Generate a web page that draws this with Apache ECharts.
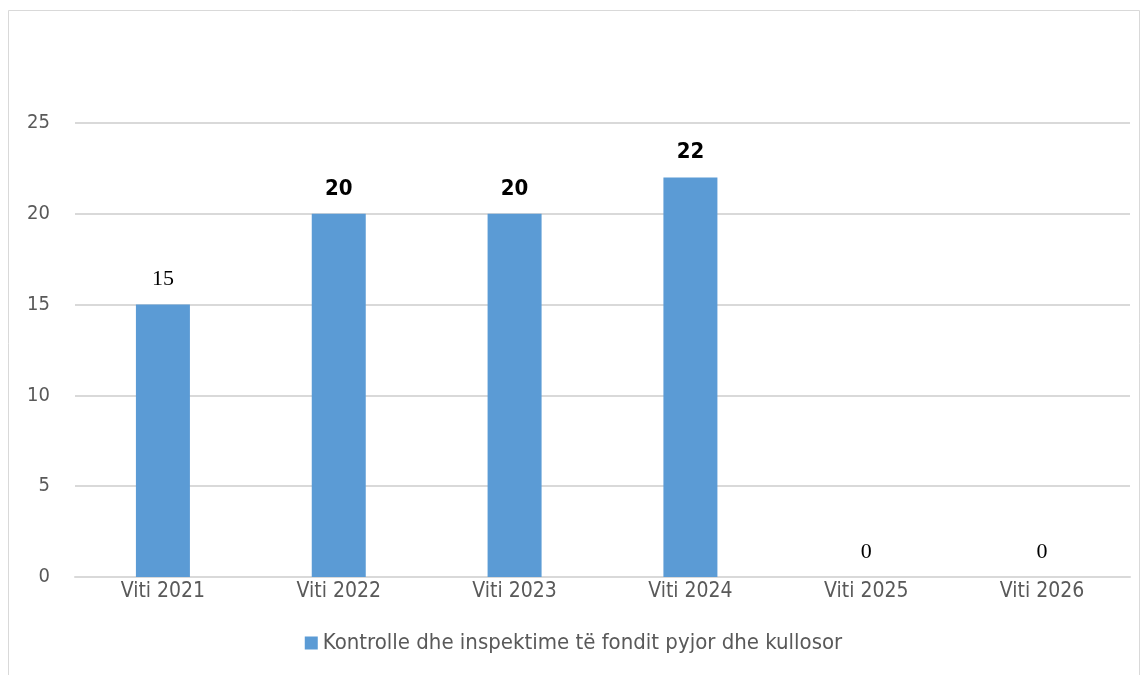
<!DOCTYPE html>
<html>
<head>
<meta charset="utf-8">
<script src="https://cdn.jsdelivr.net/npm/echarts@6/dist/echarts.min.js"></script>
<style>
html,body{margin:0;padding:0;background:#fff;}
#c{width:1147px;height:675px;}
</style>
</head>
<body>
<div id="c"></div>
<script>
const categories = ['Viti 2021','Viti 2022','Viti 2023','Viti 2024','Viti 2025','Viti 2026'];
const values = [15, 20, 20, 22, 0, 0];
const seriesName = 'Kontrolle dhe inspektime të fondit pyjor dhe kullosor';

const labelFonts = ['"Liberation Serif", serif', '"DejaVu Sans Condensed", sans-serif', '"DejaVu Sans Condensed", sans-serif', '"DejaVu Sans Condensed", sans-serif', '"Liberation Serif", serif', '"Liberation Serif", serif'];
const sansC = '"DejaVu Sans Condensed", sans-serif';

const chart = echarts.init(document.getElementById('c'), null, {renderer:'canvas'});
chart.setOption({
  animation:false,
  backgroundColor:'#fff',
  graphic:[{type:'rect', shape:{x:8.5,y:10.5,width:1131,height:700}, style:{fill:'none', stroke:'#d9d9d9', lineWidth:1}}],
  grid:{left:75, right:17, top:123, bottom:98},
  legend:{
    bottom:16, left:'center', itemWidth:13, itemHeight:13, itemGap:5,
    icon:'rect',
    textStyle:{color:'#595959', fontSize:22, fontFamily:sansC},
    data:[seriesName]
  },
  xAxis:{
    type:'category', data:categories,
    axisLine:{lineStyle:{color:'#d9d9d9', width:2}},
    axisTick:{show:false},
    axisLabel:{color:'#595959', fontSize:21, margin:4, fontFamily:sansC}
  },
  yAxis:{
    type:'value', min:0, max:25, interval:5,
    axisLine:{show:false}, axisTick:{show:false},
    axisLabel:{color:'#595959', fontSize:20, margin:25, fontFamily:sansC},
    splitLine:{lineStyle:{color:'#d9d9d9', width:2}}
  },
  series:[{
    name:seriesName, type:'bar', barWidth:54,
    itemStyle:{color:'#5b9bd5'},
    data: values.map((v,i)=>({value:v, label:{fontFamily:labelFonts[i], fontWeight: (i>=1&&i<=3)?'bold':'normal'}})),
    label:{show:true, position:'top', distance:14, color:'#000', fontSize:22}
  }]
});
</script>
</body>
</html>
